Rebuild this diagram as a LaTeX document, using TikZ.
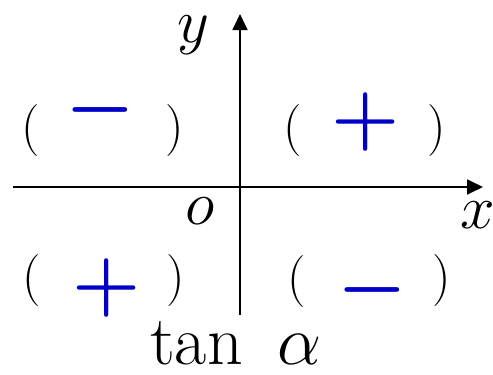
\documentclass[tikz,border=0pt]{standalone}
\usepackage{fix-cm}
\usetikzlibrary{arrows.meta}
\definecolor{signblue}{RGB}{0,0,200}
\begin{document}
\begin{tikzpicture}[x=1pt,y=-1pt,
 axis/.style={line width=1.8pt,-{Triangle[length=16pt,width=15pt]}},
 paren/.style={inner sep=0pt,font=\fontsize{52}{52}\selectfont},
 sign/.style={inner sep=0pt,text=signblue,font=\fontsize{78}{78}\selectfont\boldmath},
 lbl/.style={inner sep=0pt,font=\fontsize{62}{62}\selectfont}]
\useasboundingbox (0,0) rectangle (493,375);
\coordinate (xs) at (13,187);
\coordinate (xe) at (483,187);
\coordinate (ys) at (240,315);
\coordinate (ye) at (240,14);
\draw[axis] (xs) -- (xe);
\draw[axis] (ys) -- (ye);
% axis labels
\node[lbl] (ylab) at (193,35) {$y$};
\node[lbl] (olab) at (200,211) {$o$};
\node[lbl] (xlab) at (478,215) {$x$};
% quadrant II
\node[paren] (p2l) at (31,131) {(};
\node[sign] (s2) at (100,110) {$-$};
\node[paren] (p2r) at (175,131) {)};
% quadrant I
\node[paren] (p1l) at (293,131) {(};
\node[sign] (s1) at (366,122) {$+$};
\node[paren] (p1r) at (437,131) {)};
% quadrant III
\node[paren] (p3l) at (32,281) {(};
\node[sign] (s3) at (107,288) {$+$};
\node[paren] (p3r) at (176,281) {)};
% quadrant IV
\node[paren] (p4l) at (297,282) {(};
\node[sign] (s4) at (372,290) {$-$};
\node[paren] (p4r) at (442,281) {)};
% title
\node[inner sep=0pt,anchor=base west,font=\fontsize{70}{70}\selectfont] (ttl) at (150,364) {tan};
\node[inner sep=0pt,anchor=base west,font=\fontsize{70}{70}\selectfont] (alph) at (277,364) {$\alpha$};
\end{tikzpicture}
\end{document}
